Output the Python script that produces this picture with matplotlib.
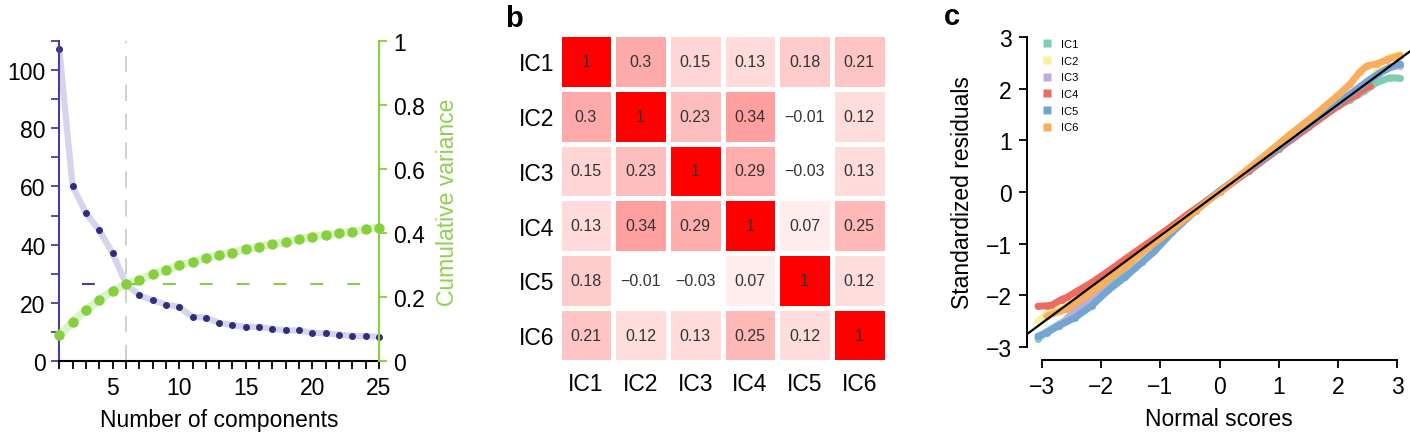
import matplotlib
matplotlib.use("Agg")
import matplotlib.pyplot as plt
import numpy as np
from matplotlib.colors import LinearSegmentedColormap
from matplotlib.ticker import MultipleLocator

plt.rcParams['font.family'] = ['Liberation Sans', 'DejaVu Sans']

# ---- panel a: eigenvalues and cumulative variance ----
n_comp = list(range(1, 26))
eigenvalues = [107.1, 60.0, 50.9, 44.9, 37.1, 26.6, 22.6, 20.9, 19.4, 18.6,
               15.2, 14.9, 13.1, 12.3, 11.7, 11.7, 11.1, 10.5, 10.5, 9.7,
               9.5, 9.1, 8.6, 8.6, 8.3]
cum_variance = [0.080, 0.122, 0.158, 0.191, 0.219, 0.240, 0.253, 0.271, 0.284, 0.299,
                0.309, 0.322, 0.331, 0.339, 0.349, 0.357, 0.365, 0.372, 0.380, 0.388,
                0.394, 0.399, 0.404, 0.411, 0.417]
n_keep = 6

# ---- panel b: correlation matrix ----
ic_names = ['IC1', 'IC2', 'IC3', 'IC4', 'IC5', 'IC6']
corr = [[1, 0.3, 0.15, 0.13, 0.18, 0.21],
        [0.3, 1, 0.23, 0.34, -0.01, 0.12],
        [0.15, 0.23, 1, 0.29, -0.03, 0.13],
        [0.13, 0.34, 0.29, 1, 0.07, 0.25],
        [0.18, -0.01, -0.03, 0.07, 1, 0.12],
        [0.21, 0.12, 0.13, 0.25, 0.12, 1]]

# ---- panel c: QQ points ----
ic1_x = [-3.07, -2.92, -2.7, -2.45, -2.2, -1.9, -1.5, -1.0, -0.5, 0, 0.5, 1.0, 1.5, 1.9, 2.2, 2.45, 2.66, 2.88, 3.05]
ic1_y = [-2.84, -2.7, -2.55, -2.38, -2.15, -1.85, -1.35, -0.84, -0.41, 0.0, 0.42, 0.85, 1.25, 1.6, 1.78, 1.95, 2.12, 2.21, 2.2]
ic2_x = [-3.07, -2.92, -2.7, -2.4, -2.0, -1.5, -1.0, -0.5, 0, 0.5, 1.0, 1.5, 2.0, 2.3, 2.6, 2.88, 3.05]
ic2_y = [-2.5, -2.36, -2.25, -2.05, -1.72, -1.28, -0.85, -0.42, 0.0, 0.42, 0.85, 1.27, 1.68, 1.95, 2.25, 2.62, 2.66]
ic3_x = [-2.72, -2.58, -2.4, -2.1, -1.7, -1.2, -0.6, 0, 0.6, 1.2, 1.7, 2.1, 2.5, 2.9, 3.05]
ic3_y = [-2.6, -2.45, -2.25, -1.95, -1.5, -1.02, -0.5, 0.02, 0.52, 1.02, 1.45, 1.8, 2.15, 2.42, 2.44]
ic4_x = [-3.07, -2.92, -2.84, -2.67, -2.58, -2.44, -2.2, -1.9, -1.5, -1.0, -0.5, 0, 0.5, 1.0, 1.5, 2.0, 2.3, 2.54]
ic4_y = [-2.21, -2.2, -2.19, -2.08, -2.04, -1.94, -1.78, -1.55, -1.22, -0.82, -0.4, 0.0, 0.41, 0.83, 1.25, 1.66, 1.88, 2.06]
ic5_x = [-3.07, -2.92, -2.72, -2.44, -2.16, -1.88, -1.6, -1.31, -1.1, -0.8, -0.4, 0, 0.5, 1.0, 1.5, 2.0, 2.4, 2.7, 2.88, 3.05]
ic5_y = [-2.79, -2.72, -2.59, -2.43, -2.2, -1.9, -1.65, -1.36, -1.15, -0.78, -0.36, 0.02, 0.44, 0.86, 1.3, 1.72, 2.05, 2.3, 2.41, 2.48]
ic6_x = [-2.92, -2.58, -2.3, -2.0, -1.6, -1.2, -0.8, -0.4, 0, 0.4, 0.8, 1.2, 1.6, 2.0, 2.2, 2.37, 2.49, 2.66, 2.83, 3.05]
ic6_y = [-2.4, -2.26, -2.05, -1.8, -1.45, -1.07, -0.72, -0.36, 0.0, 0.37, 0.74, 1.12, 1.48, 1.87, 2.08, 2.32, 2.44, 2.48, 2.56, 2.64]
ref_slope = 0.845

ic_colors = ['#7fcdae', '#f3f19a', '#bcaed8', '#ee6a60', '#74a5d2', '#f8ae5c']

W, H = 1410, 435
fig = plt.figure(figsize=(W / 100, H / 100), dpi=100)

def frac(x0, y0, x1, y1):
    # pixel box (top-left origin) -> figure fraction
    return [x0 / W, 1 - y1 / H, (x1 - x0) / W, (y1 - y0) / H]

purple = '#4a3f98'
green = '#86cf3f'
fs = 16.5

# ======== a ========
ax1 = fig.add_axes(frac(59.3, 42, 379, 362))
ax2 = ax1.twinx()
ax1.set_xlim(1, 25)
ax1.set_ylim(0, 110)
ax2.set_ylim(0, 1)

ax1.axvline(n_keep, color='#cccccc', lw=1.3, ls=(0, (9, 7)), zorder=0)
ax1.plot(n_comp, eigenvalues, color='#d5d4ea', lw=4.5, solid_capstyle='round', zorder=1)
ax1.plot(n_comp, eigenvalues, 'o', color='#302d7c', ms=4, zorder=2, clip_on=False)
ax1.plot([1, 6.6], [eigenvalues[n_keep - 1]] * 2, color=purple, lw=1.5,
         ls=(6.7, (6.2, 11.5)), zorder=1)

ax2.plot(n_comp, cum_variance, color='#dcf3c4', lw=6, solid_capstyle='round', zorder=1)
ax2.plot(n_comp, cum_variance, 'o', color=green, ms=6.5, zorder=2, clip_on=False)
ax2.plot([n_keep, 25], [cum_variance[n_keep - 1]] * 2, color=green, lw=1.5,
         ls=(0, (6.2, 11.5)), zorder=1)

ax1.set_xticks([5, 10, 15, 20, 25])
ax1.xaxis.set_minor_locator(MultipleLocator(1))
ax1.set_yticks([0, 20, 40, 60, 80, 100])
ax1.yaxis.set_minor_locator(MultipleLocator(10))
ax1.tick_params(axis='x', which='both', length=6, width=1.3, direction='out',
                labelsize=fs, pad=5)
ax1.tick_params(axis='y', which='both', length=6, width=1.3, color=purple,
                labelsize=fs, pad=4)
ax2.set_yticks([0, 0.2, 0.4, 0.6, 0.8, 1])
ax2.set_yticklabels(['0', '0.2', '0.4', '0.6', '0.8', '1'])
ax2.tick_params(axis='y', length=6, width=1.3, color=green, labelsize=fs, pad=4)

for s in ['top', 'right']:
    ax1.spines[s].set_visible(False)
ax1.spines['left'].set_color(purple)
ax1.spines['left'].set_linewidth(1.5)
ax1.spines['bottom'].set_linewidth(1.5)
for s in ['top', 'left', 'bottom']:
    ax2.spines[s].set_visible(False)
ax2.spines['right'].set_color(green)
ax2.spines['right'].set_linewidth(1.5)

ax1.set_xlabel('Number of components', fontsize=fs, labelpad=6)
ax2.set_ylabel('Cumulative variance', fontsize=fs, color='#8fd04f', labelpad=8)

# ======== b ========
axb = fig.add_axes(frac(558.5, 35, 886.5, 363.5))
cmap = LinearSegmentedColormap.from_list('wr', ['#ffffff', '#ff0000'])
mat = np.array(corr)
axb.pcolormesh(mat, cmap=cmap, vmin=0, vmax=0.9, edgecolors='white', linewidth=3.6)
axb.set_xlim(0, 6)
axb.set_ylim(6, 0)
for i in range(6):
    for j in range(6):
        v = corr[i][j]
        txt = '1' if v == 1 else ('%g' % v).replace('-', '\u2212')
        axb.text(j + 0.5, i + 0.5, txt, ha='center', va='center',
                 fontsize=11.5, color='#333333')
axb.set_xticks(np.arange(6) + 0.5)
axb.set_yticks(np.arange(6) + 0.5)
axb.set_xticklabels(ic_names)
axb.set_yticklabels(ic_names)
axb.tick_params(length=0, labelsize=fs, pad=7)
axb.tick_params(axis='y', pad=3)
for s in axb.spines.values():
    s.set_visible(False)

# ======== c ========
axc = fig.add_axes(frac(1027, 25, 1410, 361))
axc.set_xlim(-3.254, 3.22)
axc.set_ylim(-3.25, 3.25)
series = [(ic1_x, ic1_y), (ic2_x, ic2_y), (ic3_x, ic3_y),
          (ic4_x, ic4_y), (ic5_x, ic5_y), (ic6_x, ic6_y)]
for (sx, sy), col, name in zip(series, ic_colors, ic_names):
    axc.plot(sx, sy, '-', color=col, lw=5, solid_capstyle='round', zorder=2)
    axc.plot(sx, sy, 'o', color=col, ms=5, mec='none', zorder=2, label=name)
xr = np.array(axc.get_xlim())
axc.plot(xr, ref_slope * xr, color='black', lw=1.6, zorder=3)

axc.set_xticks([-3, -2, -1, 0, 1, 2, 3])
axc.set_yticks([-3, -2, -1, 0, 1, 2, 3])
axc.spines['left'].set_bounds(-3, 3)
axc.spines['bottom'].set_bounds(-3, 3)
for s in ['top', 'right']:
    axc.spines[s].set_visible(False)
axc.spines['left'].set_linewidth(1.4)
axc.spines['bottom'].set_linewidth(1.4)
axc.tick_params(length=6, width=1.3, labelsize=fs, pad=5)
axc.set_xlabel('Normal scores', fontsize=fs, labelpad=6)
axc.set_ylabel('Standardized residuals', fontsize=fs, labelpad=8)

handles = [plt.Line2D([], [], ls='none', marker='s', ms=6, color=c, mec='none')
           for c in ic_colors]
axc.legend(handles, ic_names, loc='upper left', bbox_to_anchor=(0.02, 0.975),
           frameon=False, fontsize=8, handlelength=1.0, handletextpad=0.8,
           labelspacing=0.6, borderaxespad=0.2)

# panel letters
fig.text(505 / W, 1 - 27 / H, 'b', fontsize=21, fontweight='bold')
fig.text(944 / W, 1 - 25 / H, 'c', fontsize=21, fontweight='bold')

fig.savefig('out.png', dpi=100)
